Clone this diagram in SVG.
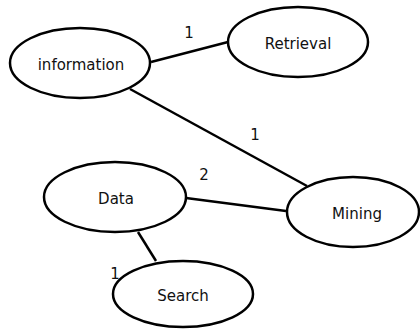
<svg xmlns="http://www.w3.org/2000/svg" width="420" height="329" viewBox="0 0 420 329">
<style>
.n{fill:#fff;stroke:#000;stroke-width:2.5}
.t{font-family:"DejaVu Sans",Verdana,sans-serif;font-size:15px;fill:#111;text-anchor:middle}
.c{stroke:#000;stroke-width:2.5;fill:none}
</style>
<rect width="420" height="329" fill="#fff"/>
<g id="connectors">
<line class="c" x1="151" y1="62" x2="228" y2="42"/>
<line class="c" x1="130" y1="89" x2="307" y2="186"/>
<line class="c" x1="186" y1="198" x2="286" y2="211"/>
<line class="c" x1="138" y1="232" x2="156" y2="261"/>
<text class="t" x="189" y="38">1</text>
<text class="t" x="255" y="140">1</text>
<text class="t" x="204" y="180">2</text>
<text class="t" x="115" y="279">1</text>
</g>
<g id="information"><ellipse class="n" cx="80" cy="63" rx="70" ry="35"/><text class="t" x="81" y="70">information</text></g>
<g id="retrieval"><ellipse class="n" cx="298" cy="42" rx="70" ry="35"/><text class="t" x="298" y="49">Retrieval</text></g>
<g id="data"><ellipse class="n" cx="115" cy="197" rx="71" ry="35"/><text class="t" x="116" y="204">Data</text></g>
<g id="search"><ellipse class="n" cx="183" cy="294" rx="70" ry="33"/><text class="t" x="183" y="301">Search</text></g>
<g id="mining"><ellipse class="n" cx="353" cy="212" rx="66" ry="35"/><text class="t" x="357" y="219">Mining</text></g>
</svg>
